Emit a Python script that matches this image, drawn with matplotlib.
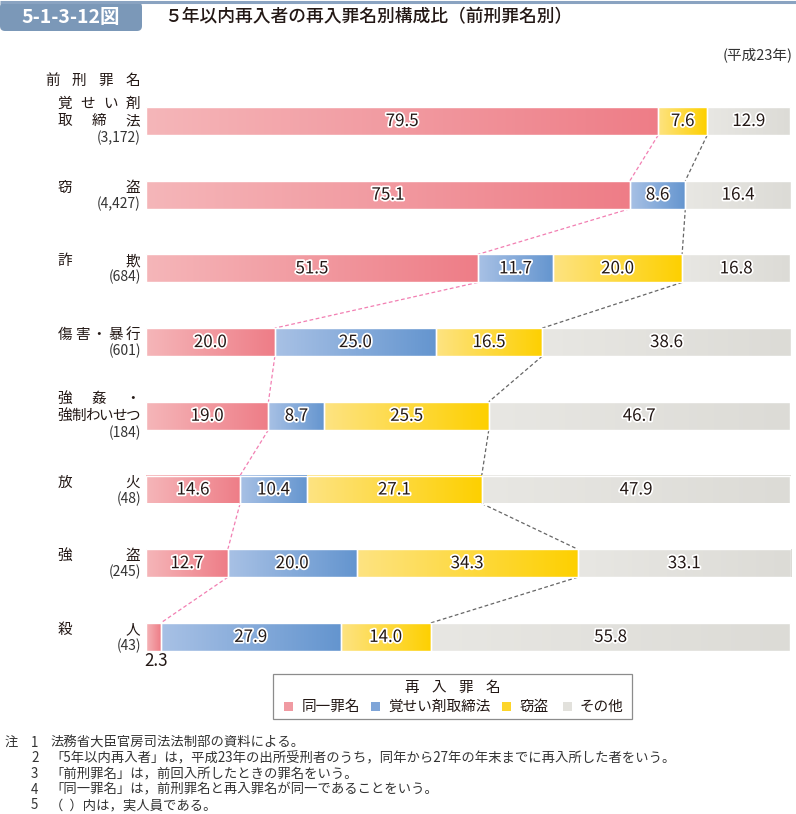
import numpy as np
import matplotlib
matplotlib.use("Agg")
import matplotlib.pyplot as plt
from matplotlib.colors import LinearSegmentedColormap
from matplotlib.patches import Rectangle, FancyBboxPatch
import matplotlib.patheffects as pe

plt.rcParams['font.family'] = ['Noto Sans CJK JP', 'DejaVu Sans']

# ---------------- data ----------------
categories = [["覚せい剤", "取締法"], ["窃盗"], ["詐欺"], ["傷害・暴行"],
              ["強姦・", "強制わいせつ"], ["放火"], ["強盗"], ["殺人"]]
counts = ["(3,172)", "(4,427)", "(684)", "(601)", "(184)", "(48)", "(245)", "(43)"]
series_names = ["同一罪名", "覚せい剤取締法", "窃盗", "その他"]
same_crime = [79.5, 75.1, 51.5, 20.0, 19.0, 14.6, 12.7, 2.3]
stimulants = [0.0, 8.6, 11.7, 25.0, 8.7, 10.4, 20.0, 27.9]
theft = [7.6, 0.0, 20.0, 16.5, 25.5, 27.1, 34.3, 14.0]
other = [12.9, 16.4, 16.8, 38.6, 46.7, 47.9, 33.1, 55.8]
notes = [("注", "1", "法務省大臣官房司法法制部の資料による。"),
         ("", "2", "「5年以内再入者」は，平成23年の出所受刑者のうち，同年から27年の年末までに再入所した者をいう。"),
         ("", "3", "「前刑罪名」は，前回入所したときの罪名をいう。"),
         ("", "4", "「同一罪名」は，前刑罪名と再入罪名が同一であることをいう。"),
         ("", "5", "（  ）内は，実人員である。")]

grad_colors = [("#f5b6b9", "#ee7d87"), ("#a8c1e5", "#6495cf"),
               ("#fee382", "#fdd000"), ("#e8e7e3", "#dcdbd6")]
legend_colors = ["#f09aa2", "#7fa5d8", "#fdd52a", "#e2e1dc"]

W, H = 796, 814
fig = plt.figure(figsize=(W / 100, H / 100), dpi=100)

# overlay axes in pixel coordinates for decorations/text
ov = fig.add_axes([0, 0, 1, 1])
ov.set_xlim(0, W)
ov.set_ylim(H, 0)
ov.axis("off")

TXT = "#231815"

# title bar
ov.plot([0, W], [2, 2], color="#8aa3c1", lw=2.2, solid_capstyle="butt")
ov.add_patch(FancyBboxPatch((0, 2), 142, 29, boxstyle="round,pad=0,rounding_size=5",
                            fc="#7b98b8", ec="none"))
ov.text(71, 17.5, "5-1-3-12図", color="white", fontsize=14, fontweight="bold",
        ha="center", va="center")
ov.text(164, 17.5, "５年以内再入者の再入罪名別構成比（前刑罪名別）", color=TXT,
        fontsize=12.8, fontweight="medium", ha="left", va="center")
ov.text(793, 55, "(平成23年)", color="#333333", fontsize=10.5, ha="right", va="center")


def spread(text, x0, x1, y, size, color=TXT):
    n = len(text)
    cw = size * 1.389 * 0.98
    if n == 1:
        ov.text(x1, y, text, fontsize=size, color=color, ha="right", va="center")
        return
    c0 = x0 + cw / 2
    c1 = x1 - cw / 2
    for k, ch in enumerate(text):
        ov.text(c0 + (c1 - c0) * k / (n - 1), y, ch, fontsize=size, color=color,
                ha="center", va="center")


spread("前刑罪名", 45, 140, 81, 10.5)

# bar axes
bar_left, bar_right = 146, 791
y_first, y_step = 121.0, 73.7
n = len(categories)
top_px = y_first - y_step / 2
bot_px = y_first + y_step * (n - 1) + y_step / 2
ax = fig.add_axes([bar_left / W, 1 - bot_px / H, (bar_right - bar_left) / W,
                   (bot_px - top_px) / H])
ax.patch.set_alpha(0)
ax.axis("off")
bh = 28 / y_step

series = [same_crime, stimulants, theft, other]
for i in range(n):
    left = 0.0
    for s, vals in enumerate(series):
        v = vals[i]
        if v <= 0:
            continue
        cmap = LinearSegmentedColormap.from_list("g%d" % s, grad_colors[s])
        ax.imshow(np.linspace(0, 1, 256).reshape(1, -1), cmap=cmap, aspect="auto",
                  extent=[left, left + v, i + bh / 2, i - bh / 2],
                  interpolation="bilinear", zorder=2)
        ax.add_patch(Rectangle((left, i - bh / 2), v, bh, fill=False, ec="white",
                               lw=1.0, zorder=3))
        if v >= 3:
            ax.text(left + v / 2, i, f"{v:.1f}", ha="center", va="center",
                    fontsize=12.2, color=TXT, zorder=5,
                    path_effects=[pe.withStroke(linewidth=2.5, foreground="white")])
        else:
            ax.text(left - 0.2, i + 0.33, f"{v:.1f}", ha="left", va="center",
                    fontsize=12.2, color=TXT, zorder=5)
        left += v

# connector lines
cum_same = np.array(same_crime)
cum_theft = np.array(same_crime) + np.array(stimulants) + np.array(theft)
for i in range(n - 1):
    ax.plot([cum_same[i], cum_same[i + 1]], [i + bh / 2, i + 1 - bh / 2],
            color="#f27fb2", lw=0.9, ls=(0, (3, 2)), zorder=1)
    ax.plot([cum_theft[i], cum_theft[i + 1]], [i + bh / 2, i + 1 - bh / 2],
            color="#666666", lw=0.9, ls=(0, (3, 2)), zorder=1)

ax.set_xlim(0, 100.1)
ax.set_ylim(n - 0.5, -0.5)

# category labels
for i, (name, cnt) in enumerate(zip(categories, counts)):
    yc = y_first + y_step * i
    if len(name) == 2:
        spread(name[0], 58, 140, yc - 17, 10.5)
        spread(name[1], 58, 140, yc, 10.5)
        ov.text(141, yc + 17, cnt, fontsize=10, color="#333333", ha="right", va="center")
    else:
        spread(name[0], 58, 140, yc - 7, 10.5)
        ov.text(141, yc + 9, cnt, fontsize=10, color="#333333", ha="right", va="center")

# legend
ov.add_patch(Rectangle((273, 674), 359, 45, fill=False, ec="#8c8c8c", lw=0.9))
spread("再入罪名", 405, 500, 688, 10.5)
sq_x = [284, 371, 502, 563]
lab_x = [302, 388, 519, 580]
for s in range(4):
    ov.add_patch(Rectangle((sq_x[s], 702), 9, 9, fc=legend_colors[s], ec="none"))
    ov.text(lab_x[s], 706.5, series_names[s], fontsize=10.5, color=TXT,
            ha="left", va="center")

# notes
for k, (a, b, t) in enumerate(notes):
    y = 743 + 15.5 * k
    if a:
        ov.text(5, y, a, fontsize=9.6, color="#333333", ha="left", va="center")
    ov.text(31, y, b, fontsize=9.6, color="#333333", ha="left", va="center")
    ov.text(50, y, t, fontsize=9.6, color="#333333", ha="left", va="center")

fig.savefig("out.png", dpi=100)
